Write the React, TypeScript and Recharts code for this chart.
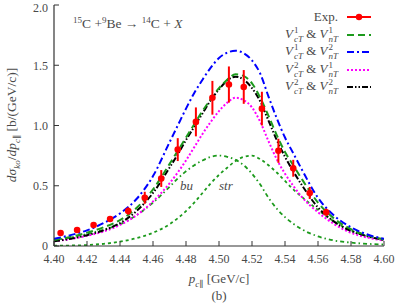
import React from 'react';
import { ComposedChart, Line, Scatter, XAxis, YAxis, ErrorBar, Legend } from 'recharts';

// momentum grid (GeV/c)
const pGrid = [4.40, 4.41, 4.42, 4.43, 4.44, 4.45, 4.46, 4.47, 4.475, 4.48, 4.485, 4.49, 4.495, 4.50, 4.505, 4.51, 4.515, 4.52, 4.525, 4.53, 4.535, 4.54, 4.545, 4.55, 4.56, 4.57, 4.58, 4.59, 4.60];
// V1cT & V1nT
const v1v1 = [0.05, 0.075, 0.11, 0.155, 0.215, 0.315, 0.47, 0.68, 0.79, 0.90, 1.01, 1.12, 1.22, 1.31, 1.38, 1.425, 1.41, 1.35, 1.23, 1.08, 0.92, 0.78, 0.67, 0.56, 0.36, 0.225, 0.14, 0.088, 0.055];
// V1cT & V2nT
const v1v2 = [0.06, 0.09, 0.13, 0.19, 0.27, 0.39, 0.58, 0.86, 1.0, 1.14, 1.27, 1.38, 1.48, 1.56, 1.605, 1.62, 1.60, 1.54, 1.43, 1.24, 1.06, 0.90, 0.77, 0.64, 0.40, 0.25, 0.155, 0.095, 0.06];
// V2cT & V1nT
const v2v1 = [0.04, 0.058, 0.085, 0.12, 0.175, 0.255, 0.37, 0.52, 0.61, 0.71, 0.82, 0.93, 1.03, 1.12, 1.19, 1.23, 1.21, 1.15, 1.03, 0.87, 0.72, 0.60, 0.50, 0.41, 0.28, 0.18, 0.11, 0.07, 0.045];
// V2cT & V2nT
const v2v2 = [0.04, 0.06, 0.09, 0.13, 0.19, 0.29, 0.44, 0.65, 0.76, 0.88, 0.99, 1.10, 1.21, 1.30, 1.375, 1.405, 1.38, 1.31, 1.20, 1.04, 0.88, 0.74, 0.62, 0.51, 0.32, 0.20, 0.125, 0.08, 0.05];
// components
const buVals = [0.048, 0.07, 0.10, 0.135, 0.18, 0.255, 0.36, 0.49, 0.56, 0.62, 0.67, 0.71, 0.74, 0.75, 0.74, 0.715, 0.67, 0.60, 0.51, 0.40, 0.31, 0.24, 0.185, 0.14, 0.08, 0.045, 0.028, 0.018, 0.012];
const strVals = [0.002, 0.004, 0.008, 0.018, 0.036, 0.065, 0.11, 0.18, 0.23, 0.29, 0.36, 0.44, 0.52, 0.59, 0.65, 0.705, 0.74, 0.75, 0.72, 0.67, 0.61, 0.54, 0.47, 0.41, 0.30, 0.20, 0.13, 0.08, 0.05];

// experimental data
const expP = [4.404, 4.414, 4.424, 4.434, 4.445, 4.455, 4.465, 4.475, 4.486, 4.496, 4.506, 4.515, 4.526, 4.536, 4.545, 4.555, 4.565];
const expVal = [0.108, 0.133, 0.174, 0.224, 0.29, 0.40, 0.56, 0.80, 1.03, 1.23, 1.34, 1.32, 1.14, 0.79, 0.645, 0.44, 0.28];
const expErr = [0.008, 0.008, 0.01, 0.012, 0.03, 0.05, 0.07, 0.095, 0.12, 0.14, 0.15, 0.14, 0.14, 0.10, 0.07, 0.05, 0.03];

const xTicks = [4.40, 4.42, 4.44, 4.46, 4.48, 4.50, 4.52, 4.54, 4.56, 4.58, 4.60];
const xTickLabels = ['4.40', '4.42', '4.44', '4.46', '4.48', '4.50', '4.52', '4.54', '4.56', '4.58', '4.60'];
const yTicks = [0, 0.5, 1.0, 1.5, 2.0];
const yTickLabels = ['0', '0.5', '1.0', '1.5', '2.0'];

const curveRows = pGrid.map((x, i) => ({ x, a: v1v1[i], b: v1v2[i], c: v2v1[i], d: v2v2[i], bu: buVals[i], str: strVals[i] }));
const expRows = expP.map((x, i) => ({ x, y: expVal[i], err: expErr[i] }));

const FONT = '"Liberation Serif", "DejaVu Serif", serif';
const TXT = '#4a4a4a';
const GREEN = '#1c9a1c';

const fmtX = (v: number) => {
  const i = xTicks.findIndex((t) => Math.abs(t - v) < 1e-6);
  return i >= 0 ? xTickLabels[i] : '';
};
const fmtY = (v: number) => {
  const i = yTicks.findIndex((t) => Math.abs(t - v) < 1e-6);
  return i >= 0 ? yTickLabels[i] : '';
};

const SupSub = ({ sup, sub }: { sup: string; sub: string }) => (
  <span style={{ display: 'inline-flex', flexDirection: 'column', fontSize: 9, lineHeight: '9px', verticalAlign: 'middle', marginLeft: 1 }}>
    <span>{sup}</span>
    <span style={{ fontStyle: 'italic' }}>{sub}</span>
  </span>
);

const VLabel = ({ c, n }: { c: string; n: string }) => (
  <span>
    <i>V</i><SupSub sup={c} sub="cT" /> &amp; <i>V</i><SupSub sup={n} sub="nT" />
  </span>
);

const legendItems = [
  { key: 'exp', label: <span>Exp.</span>, color: 'red', dash: '', dot: true },
  { key: 'a', label: <VLabel c="1" n="1" />, color: GREEN, dash: '7 4', dot: false },
  { key: 'b', label: <VLabel c="1" n="2" />, color: '#0000ff', dash: '7 3 2 3', dot: false },
  { key: 'c', label: <VLabel c="2" n="1" />, color: '#ff00ff', dash: '2 2', dot: false },
  { key: 'd', label: <VLabel c="2" n="2" />, color: '#000000', dash: '6 2 1.5 2 1.5 2', dot: false },
];

const LegendBox = () => (
  <div style={{ fontFamily: FONT, fontSize: 13, color: TXT }}>
    {legendItems.map((it) => (
      <div key={it.key} style={{ height: 17.5, display: 'flex', justifyContent: 'flex-end', alignItems: 'center', paddingRight: 9 }}>
        <span style={{ whiteSpace: 'nowrap' }}>{it.label}</span>
        <svg width={24} height={10} style={{ marginLeft: 9 }}>
          <line x1={0} y1={5} x2={24} y2={5} stroke={it.color} strokeWidth={2} strokeDasharray={it.dash || undefined} />
          {it.dot && <circle cx={12} cy={5} r={3.2} fill={it.color} />}
        </svg>
      </div>
    ))}
  </div>
);

const Dot = (props: any) => {
  const { cx, cy } = props;
  if (cx == null || cy == null) return null;
  return <circle cx={cx} cy={cy} r={3.3} fill="red" />;
};

export default function App() {
  return (
    <div style={{ position: 'absolute', left: 0, top: 0, width: 399, height: 303, background: '#fff', fontFamily: FONT }}>
      <ComposedChart width={399} height={303} data={curveRows} margin={{ top: 5, right: 15, bottom: 0, left: 0 }}>
        <XAxis
          xAxisId="main"
          dataKey="x"
          type="number"
          domain={[4.4, 4.6]}
          ticks={xTicks}
          tickFormatter={fmtX}
          allowDataOverflow
          height={57}
          tickSize={-5}
          tickMargin={13}
          stroke="#333"
          tick={{ fill: TXT, fontSize: 12, fontFamily: FONT }}
          tickLine={{ stroke: '#333' }}
          axisLine={{ stroke: '#333', strokeWidth: 1.2 }}
        />
        <XAxis
          xAxisId="top"
          orientation="top"
          dataKey="x"
          type="number"
          domain={[4.4, 4.6]}
          ticks={xTicks}
          allowDataOverflow
          height={0}
          tickSize={-5}
          tick={false}
          tickLine={{ stroke: '#333' }}
          axisLine={{ stroke: '#333', strokeWidth: 1.2 }}
        />
        <YAxis
          yAxisId="main"
          type="number"
          domain={[0, 2]}
          ticks={yTicks}
          tickFormatter={fmtY}
          allowDataOverflow
          width={54}
          tickSize={-5}
          tickMargin={11}
          tick={{ fill: TXT, fontSize: 12, fontFamily: FONT }}
          tickLine={{ stroke: '#333' }}
          axisLine={{ stroke: '#333', strokeWidth: 1.2 }}
        />
        <YAxis
          yAxisId="right"
          orientation="right"
          type="number"
          domain={[0, 2]}
          ticks={yTicks}
          allowDataOverflow
          width={0}
          tickSize={-5}
          tick={false}
          tickLine={{ stroke: '#333' }}
          axisLine={{ stroke: '#333', strokeWidth: 1.2 }}
        />
        <Legend
          layout="horizontal"
          verticalAlign="middle"
          align="center"
          content={() => <LegendBox />}
          wrapperStyle={{ top: 8.5, left: 180, width: 200, height: 90 }}
        />
        <Line xAxisId="main" yAxisId="main" type="monotone" dataKey="bu" stroke={GREEN} strokeWidth={1.8} strokeDasharray="4 3 1.5 3" dot={false} isAnimationActive={false} legendType="none" />
        <Line xAxisId="main" yAxisId="main" type="monotone" dataKey="str" stroke={GREEN} strokeWidth={1.8} strokeDasharray="3 3" dot={false} isAnimationActive={false} legendType="none" />
        <Line xAxisId="main" yAxisId="main" type="monotone" dataKey="c" stroke="#ff00ff" strokeWidth={2} strokeDasharray="2 2" dot={false} isAnimationActive={false} />
        <Line xAxisId="main" yAxisId="main" type="monotone" dataKey="d" stroke="#000000" strokeWidth={2} strokeDasharray="6 2 1.5 2 1.5 2" dot={false} isAnimationActive={false} />
        <Line xAxisId="main" yAxisId="main" type="monotone" dataKey="a" stroke={GREEN} strokeWidth={2} strokeDasharray="7 4" dot={false} isAnimationActive={false} />
        <Line xAxisId="main" yAxisId="main" type="monotone" dataKey="b" stroke="#0000ff" strokeWidth={2} strokeDasharray="7 3 2 3" dot={false} isAnimationActive={false} />
        <Scatter xAxisId="main" yAxisId="main" data={expRows} dataKey="y" fill="red" shape={Dot} isAnimationActive={false}>
          <ErrorBar dataKey="err" direction="y" width={0} stroke="red" strokeWidth={2} />
        </Scatter>
      </ComposedChart>

      {/* in-plot reaction label */}
      <div style={{ position: 'absolute', left: 73, top: 16, fontSize: 13.5, color: TXT, whiteSpace: 'nowrap' }}>
        <span style={{ fontSize: 9, position: 'relative', top: -5 }}>15</span>C +<span style={{ fontSize: 9, position: 'relative', top: -5 }}>9</span>Be → <span style={{ fontSize: 9, position: 'relative', top: -5 }}>14</span>C + <i>X</i>
      </div>

      {/* component labels */}
      <div style={{ position: 'absolute', left: 180, top: 178, fontSize: 13, color: TXT, fontStyle: 'italic' }}>bu</div>
      <div style={{ position: 'absolute', left: 219, top: 178, fontSize: 13, color: TXT, fontStyle: 'italic' }}>str</div>

      {/* x axis label */}
      <div style={{ position: 'absolute', left: 119, width: 200, top: 271, textAlign: 'center', fontSize: 13, color: TXT, whiteSpace: 'nowrap' }}>
        <i>p</i><sub style={{ fontSize: 9 }}><i>c</i>∥</sub> [GeV/c]
      </div>
      <div style={{ position: 'absolute', left: 119, width: 200, top: 288, textAlign: 'center', fontSize: 13, color: TXT }}>(b)</div>

      {/* y axis label */}
      <div style={{ position: 'absolute', left: -88, top: 117, width: 200, height: 16, textAlign: 'center', fontSize: 13.5, color: TXT, whiteSpace: 'nowrap', transform: 'rotate(-90deg)' }}>
        <i>dσ</i><sub style={{ fontSize: 9 }}><i>ko</i></sub>/<i>dp</i><sub style={{ fontSize: 9 }}><i>c</i>∥</sub> [b/(GeV/c)]
      </div>
    </div>
  );
}
